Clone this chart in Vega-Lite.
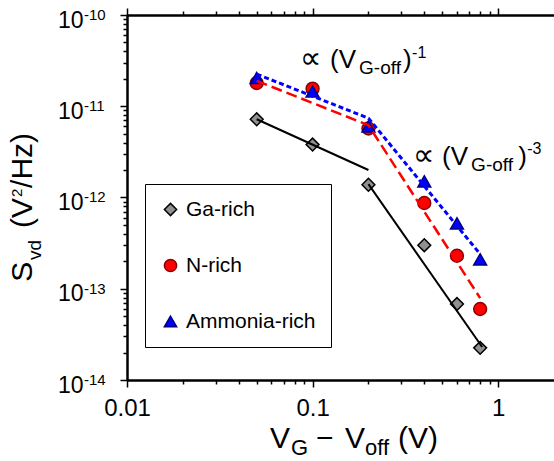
{
  "$schema": "https://vega.github.io/schema/vega-lite/v6.json",
  "width": 427,
  "height": 365,
  "autosize": "none",
  "padding": {"left": 127, "top": 15, "right": 0, "bottom": 81},
  "background": "white",
  "config": {
    "view": {"stroke": null},
    "font": "Liberation Sans",
    "axis": {"grid": false, "domainColor": "black", "domainWidth": 2, "tickColor": "black", "tickWidth": 1.5, "labelColor": "black", "labelFont": "Liberation Sans", "title": null},
    "legend": {"orient": "none", "legendX": 18, "legendY": 169, "strokeColor": "black", "strokeWidth": 1, "fillColor": "white", "padding": 15, "labelFont": "Liberation Sans", "labelFontSize": 21, "labelColor": "black", "labelOffset": 5, "rowPadding": 34, "symbolSize": 150, "symbolStrokeWidth": 1.5},
    "text": {"font": "Liberation Sans", "color": "black"}
  },
  "datasets": {
    "points": [
      {"series": "Ga-rich", "x": 0.05, "y": 7.2e-12},
      {"series": "Ga-rich", "x": 0.1, "y": 3.8e-12},
      {"series": "Ga-rich", "x": 0.2, "y": 1.38e-12},
      {"series": "Ga-rich", "x": 0.4, "y": 3.0e-13},
      {"series": "Ga-rich", "x": 0.6, "y": 6.8e-14},
      {"series": "Ga-rich", "x": 0.8, "y": 2.25e-14},
      {"series": "N-rich", "x": 0.05, "y": 1.8e-11},
      {"series": "N-rich", "x": 0.1, "y": 1.56e-11},
      {"series": "N-rich", "x": 0.2, "y": 5.7e-12},
      {"series": "N-rich", "x": 0.4, "y": 8.7e-13},
      {"series": "N-rich", "x": 0.6, "y": 2.3e-13},
      {"series": "N-rich", "x": 0.8, "y": 6.0e-14},
      {"series": "Ammonia-rich", "x": 0.05, "y": 2.04e-11},
      {"series": "Ammonia-rich", "x": 0.1, "y": 1.45e-11},
      {"series": "Ammonia-rich", "x": 0.2, "y": 6.0e-12},
      {"series": "Ammonia-rich", "x": 0.4, "y": 1.5e-12},
      {"series": "Ammonia-rich", "x": 0.6, "y": 5.2e-13},
      {"series": "Ammonia-rich", "x": 0.8, "y": 2.1e-13}
    ],
    "fits": [
      {"series": "Ga-rich", "segment": 1, "x": 0.05, "y": 7.2e-12},
      {"series": "Ga-rich", "segment": 1, "x": 0.2, "y": 2.0e-12},
      {"series": "Ga-rich", "segment": 2, "x": 0.2, "y": 1.4e-12},
      {"series": "Ga-rich", "segment": 2, "x": 0.82, "y": 2.3e-14},
      {"series": "N-rich", "segment": 1, "x": 0.05, "y": 1.9e-11},
      {"series": "N-rich", "segment": 1, "x": 0.2, "y": 6.2e-12},
      {"series": "N-rich", "segment": 1, "x": 0.8, "y": 7.9e-14},
      {"series": "Ammonia-rich", "segment": 1, "x": 0.05, "y": 2.25e-11},
      {"series": "Ammonia-rich", "segment": 1, "x": 0.2, "y": 7.4e-12},
      {"series": "Ammonia-rich", "segment": 1, "x": 0.8, "y": 2.4e-13}
    ],
    "texts": [
      {"part": "prop", "text": "∝", "x": 0.0856, "y": 2.63e-11},
      {"part": "annMain", "text": "(V", "x": 0.1243, "y": 2.63e-11},
      {"part": "annMain", "text": ")", "x": 0.3075, "y": 2.63e-11},
      {"part": "prop", "text": "∝", "x": 0.3481, "y": 2.275e-12},
      {"part": "annMain", "text": "(V", "x": 0.499, "y": 2.275e-12},
      {"part": "annMain", "text": ")", "x": 1.282, "y": 2.275e-12},
      {"part": "annSub", "text": "G-off", "x": 0.1781, "y": 2.26e-11},
      {"part": "annSub", "text": "G-off", "x": 0.7151, "y": 1.956e-12},
      {"part": "annSup", "text": "-1", "x": 0.3439, "y": 3.38e-11},
      {"part": "annSup", "text": "-3", "x": 1.4333, "y": 3.0e-12},
      {"part": "expo", "text": "-10", "x": 0.005866, "y": 8.816e-11},
      {"part": "expo", "text": "-11", "x": 0.005866, "y": 8.816e-12},
      {"part": "expo", "text": "-12", "x": 0.005866, "y": 8.816e-13},
      {"part": "expo", "text": "-13", "x": 0.005866, "y": 8.816e-14},
      {"part": "expo", "text": "-14", "x": 0.005866, "y": 8.816e-15},
      {"part": "xTitle", "text": "V", "x": 0.05901, "y": 1.808e-15},
      {"part": "xTitle", "text": "−", "x": 0.10445, "y": 1.808e-15},
      {"part": "xTitle", "text": "V", "x": 0.1497, "y": 1.808e-15},
      {"part": "xTitle", "text": "(V)", "x": 0.2889, "y": 1.808e-15},
      {"part": "xSub", "text": "G", "x": 0.07657, "y": 1.516e-15},
      {"part": "xSub", "text": "off", "x": 0.19187, "y": 1.516e-15},
      {"part": "yTitle", "text": "S", "x": 0.003075, "y": 1.19e-13},
      {"part": "yTitle", "text": "(V", "x": 0.003075, "y": 4.645e-13},
      {"part": "yTitle", "text": "/Hz)", "x": 0.003075, "y": 1.274e-12},
      {"part": "ySub", "text": "vd", "x": 0.003439, "y": 2.072e-13},
      {"part": "ySup", "text": "2", "x": 0.002716, "y": 1.015e-12}
    ]
  },
  "resolve": {"axis": {"x": "independent", "y": "independent"}},
  "layer": [
    {
      "data": {"name": "points"},
      "mark": {"type": "point", "filled": true, "size": 165, "strokeWidth": 1.5, "opacity": 1},
      "encoding": {
        "x": {"field": "x", "type": "quantitative", "scale": {"type": "log", "domain": [0.01, 2], "nice": false},
              "axis": {"orient": "bottom", "values": [0.01, 0.1, 1], "tickSize": 7, "labelFontSize": 24, "labelPadding": 9, "labelFlush": false, "labelExpr": "format(datum.value, '~g')"}},
        "y": {"field": "y", "type": "quantitative", "scale": {"type": "log", "domain": [1e-14, 1e-10], "nice": false},
              "axis": {"orient": "left", "values": [1e-14, 1e-13, 1e-12, 1e-11, 1e-10], "tickSize": 7, "labelFontSize": 23, "labelPadding": 37, "labelOffset": 5, "labelBaseline": "middle", "labelFlush": false, "labelExpr": "'10'"}},
        "shape": {"field": "series", "type": "nominal", "title": null, "scale": {"domain": ["Ga-rich", "N-rich", "Ammonia-rich"], "range": ["diamond", "circle", "triangle-up"]}},
        "fill": {"field": "series", "type": "nominal", "title": null, "scale": {"domain": ["Ga-rich", "N-rich", "Ammonia-rich"], "range": ["#909090", "#ff0000", "#0000ff"]}},
        "stroke": {"field": "series", "type": "nominal", "title": null, "scale": {"domain": ["Ga-rich", "N-rich", "Ammonia-rich"], "range": ["#000000", "#8b0000", "#000080"]}}
      }
    },
    {
      "data": {"name": "fits"},
      "transform": [{"filter": "datum.series == 'Ga-rich'"}],
      "mark": {"type": "line", "color": "#000000", "strokeWidth": 2},
      "encoding": {
        "x": {"field": "x", "type": "quantitative", "scale": {"type": "log", "domain": [0.01, 2], "nice": false},
              "axis": {"orient": "bottom", "values": [0.02, 0.03, 0.04, 0.05, 0.06, 0.07, 0.08, 0.09, 0.2, 0.3, 0.4, 0.5, 0.6, 0.7, 0.8, 0.9], "tickSize": 4, "labels": false}},
        "y": {"field": "y", "type": "quantitative", "scale": {"type": "log", "domain": [1e-14, 1e-10], "nice": false},
              "axis": {"orient": "left", "values": [2e-14, 3e-14, 4e-14, 5e-14, 6e-14, 7e-14, 8e-14, 9e-14, 2e-13, 3e-13, 4e-13, 5e-13, 6e-13, 7e-13, 8e-13, 9e-13, 2e-12, 3e-12, 4e-12, 5e-12, 6e-12, 7e-12, 8e-12, 9e-12, 2e-11, 3e-11, 4e-11, 5e-11, 6e-11, 7e-11, 8e-11, 9e-11], "tickSize": 4, "labels": false}},
        "detail": {"field": "segment", "type": "nominal"}
      }
    },
    {
      "data": {"name": "fits"},
      "transform": [{"filter": "datum.series == 'N-rich'"}],
      "mark": {"type": "line", "color": "#ff0000", "strokeWidth": 2.5, "strokeDash": [11, 5]},
      "encoding": {
        "x": {"field": "x", "type": "quantitative", "scale": {"type": "log", "domain": [0.01, 2], "nice": false},
              "axis": {"orient": "top", "values": [0.01, 0.1, 1], "tickSize": 7, "labels": false}},
        "y": {"field": "y", "type": "quantitative", "scale": {"type": "log", "domain": [1e-14, 1e-10], "nice": false}, "axis": null}
      }
    },
    {
      "data": {"name": "fits"},
      "transform": [{"filter": "datum.series == 'Ammonia-rich'"}],
      "mark": {"type": "line", "color": "#0000ff", "strokeWidth": 3, "strokeDash": [5, 3]},
      "encoding": {
        "x": {"field": "x", "type": "quantitative", "scale": {"type": "log", "domain": [0.01, 2], "nice": false},
              "axis": {"orient": "top", "values": [0.02, 0.03, 0.04, 0.05, 0.06, 0.07, 0.08, 0.09, 0.2, 0.3, 0.4, 0.5, 0.6, 0.7, 0.8, 0.9], "tickSize": 4, "labels": false}},
        "y": {"field": "y", "type": "quantitative", "scale": {"type": "log", "domain": [1e-14, 1e-10], "nice": false}, "axis": null}
      }
    },
    {
      "data": {"name": "texts"},
      "transform": [{"filter": "datum.part == 'prop'"}],
      "mark": {"type": "text", "align": "left", "baseline": "alphabetic", "fontSize": 30, "font": "DejaVu Sans"},
      "encoding": {
        "x": {"field": "x", "type": "quantitative", "scale": {"type": "log", "domain": [0.01, 2], "nice": false}, "axis": null},
        "y": {"field": "y", "type": "quantitative", "scale": {"type": "log", "domain": [1e-14, 1e-10], "nice": false}, "axis": null},
        "text": {"field": "text"}
      }
    },
    {
      "data": {"name": "texts"},
      "transform": [{"filter": "datum.part == 'annMain'"}],
      "mark": {"type": "text", "align": "left", "baseline": "alphabetic", "fontSize": 26, "font": "Liberation Sans"},
      "encoding": {
        "x": {"field": "x", "type": "quantitative", "scale": {"type": "log", "domain": [0.01, 2], "nice": false}, "axis": null},
        "y": {"field": "y", "type": "quantitative", "scale": {"type": "log", "domain": [1e-14, 1e-10], "nice": false}, "axis": null},
        "text": {"field": "text"}
      }
    },
    {
      "data": {"name": "texts"},
      "transform": [{"filter": "datum.part == 'annSub'"}],
      "mark": {"type": "text", "align": "left", "baseline": "alphabetic", "fontSize": 19, "font": "Liberation Sans"},
      "encoding": {
        "x": {"field": "x", "type": "quantitative", "scale": {"type": "log", "domain": [0.01, 2], "nice": false}, "axis": null},
        "y": {"field": "y", "type": "quantitative", "scale": {"type": "log", "domain": [1e-14, 1e-10], "nice": false}, "axis": null},
        "text": {"field": "text"}
      }
    },
    {
      "data": {"name": "texts"},
      "transform": [{"filter": "datum.part == 'annSup'"}],
      "mark": {"type": "text", "align": "left", "baseline": "alphabetic", "fontSize": 16, "font": "Liberation Sans"},
      "encoding": {
        "x": {"field": "x", "type": "quantitative", "scale": {"type": "log", "domain": [0.01, 2], "nice": false}, "axis": null},
        "y": {"field": "y", "type": "quantitative", "scale": {"type": "log", "domain": [1e-14, 1e-10], "nice": false}, "axis": null},
        "text": {"field": "text"}
      }
    },
    {
      "data": {"name": "texts"},
      "transform": [{"filter": "datum.part == 'expo'"}],
      "mark": {"type": "text", "align": "left", "baseline": "alphabetic", "fontSize": 15, "font": "Liberation Sans"},
      "encoding": {
        "x": {"field": "x", "type": "quantitative", "scale": {"type": "log", "domain": [0.01, 2], "nice": false}, "axis": null},
        "y": {"field": "y", "type": "quantitative", "scale": {"type": "log", "domain": [1e-14, 1e-10], "nice": false}, "axis": null},
        "text": {"field": "text"}
      }
    },
    {
      "data": {"name": "texts"},
      "transform": [{"filter": "datum.part == 'xTitle'"}],
      "mark": {"type": "text", "align": "left", "baseline": "alphabetic", "fontSize": 30, "font": "Liberation Sans"},
      "encoding": {
        "x": {"field": "x", "type": "quantitative", "scale": {"type": "log", "domain": [0.01, 2], "nice": false}, "axis": null},
        "y": {"field": "y", "type": "quantitative", "scale": {"type": "log", "domain": [1e-14, 1e-10], "nice": false}, "axis": null},
        "text": {"field": "text"}
      }
    },
    {
      "data": {"name": "texts"},
      "transform": [{"filter": "datum.part == 'xSub'"}],
      "mark": {"type": "text", "align": "left", "baseline": "alphabetic", "fontSize": 22, "font": "Liberation Sans"},
      "encoding": {
        "x": {"field": "x", "type": "quantitative", "scale": {"type": "log", "domain": [0.01, 2], "nice": false}, "axis": null},
        "y": {"field": "y", "type": "quantitative", "scale": {"type": "log", "domain": [1e-14, 1e-10], "nice": false}, "axis": null},
        "text": {"field": "text"}
      }
    },
    {
      "data": {"name": "texts"},
      "transform": [{"filter": "datum.part == 'yTitle'"}],
      "mark": {"type": "text", "align": "left", "baseline": "alphabetic", "fontSize": 30, "angle": 270, "font": "Liberation Sans"},
      "encoding": {
        "x": {"field": "x", "type": "quantitative", "scale": {"type": "log", "domain": [0.01, 2], "nice": false}, "axis": null},
        "y": {"field": "y", "type": "quantitative", "scale": {"type": "log", "domain": [1e-14, 1e-10], "nice": false}, "axis": null},
        "text": {"field": "text"}
      }
    },
    {
      "data": {"name": "texts"},
      "transform": [{"filter": "datum.part == 'ySub'"}],
      "mark": {"type": "text", "align": "left", "baseline": "alphabetic", "fontSize": 19, "angle": 270, "font": "Liberation Sans"},
      "encoding": {
        "x": {"field": "x", "type": "quantitative", "scale": {"type": "log", "domain": [0.01, 2], "nice": false}, "axis": null},
        "y": {"field": "y", "type": "quantitative", "scale": {"type": "log", "domain": [1e-14, 1e-10], "nice": false}, "axis": null},
        "text": {"field": "text"}
      }
    },
    {
      "data": {"name": "texts"},
      "transform": [{"filter": "datum.part == 'ySup'"}],
      "mark": {"type": "text", "align": "left", "baseline": "alphabetic", "fontSize": 15, "angle": 270, "font": "Liberation Sans"},
      "encoding": {
        "x": {"field": "x", "type": "quantitative", "scale": {"type": "log", "domain": [0.01, 2], "nice": false}, "axis": null},
        "y": {"field": "y", "type": "quantitative", "scale": {"type": "log", "domain": [1e-14, 1e-10], "nice": false}, "axis": null},
        "text": {"field": "text"}
      }
    }
  ]
}
